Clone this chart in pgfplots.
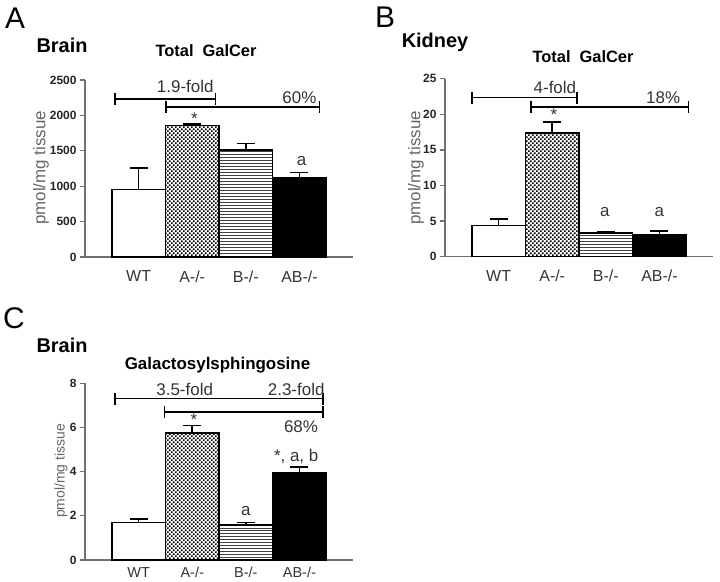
\documentclass[border=0pt]{standalone}
\usepackage{pgfplots}
\pgfplotsset{compat=1.18}
\usepackage{fontspec}
\setmainfont{Liberation Sans}
\usetikzlibrary{patterns,arrows.meta}
\definecolor{axgray}{HTML}{707070}
\definecolor{txtgray}{HTML}{333333}
\definecolor{lblgray}{HTML}{666666}
\pgfdeclarepatternformonly{finecheck}{\pgfpointorigin}{\pgfqpoint{4.3bp}{4.3bp}}{\pgfqpoint{4.3bp}{4.3bp}}{%
  \pgfpathrectangle{\pgfpointorigin}{\pgfqpoint{2bp}{2bp}}%
  \pgfpathrectangle{\pgfqpoint{2.15bp}{2.15bp}}{\pgfqpoint{2bp}{2bp}}%
  \pgfusepath{fill}}
\tikzset{
  brk/.style={line width=1.7bp, black, {Bar[width=12bp]}-{Bar[width=12bp]}},
  ann/.style={text=txtgray, font=\fontsize{17}{17}\selectfont, inner sep=0pt},
}
\pgfplotsset{
  panel/.style={
    scale only axis, width=268bp,
    xmin=-1, xmax=4, ymin=0,
    axis x line*=bottom, axis y line*=left,
    axis line style={draw=axgray, line width=1.5bp},
    xtick={0,1,2,3}, xticklabels={WT,A-/-,B-/-,AB-/-},
    x tick style={draw=none},
    y tick style={draw=axgray, line width=1.3bp},
    tick align=outside, major tick length=5bp,
    yticklabel style={font=\bfseries\fontsize{12}{12}\selectfont, text=black!85},
    /pgf/number format/assume math mode=true,
    /pgf/number format/1000 sep={},
    scaled y ticks=false,
    ybar, bar width=1, bar shift=0pt,
    clip=false,
    error bars/y dir=plus, error bars/y explicit,
    error bars/error bar style={line width=1.5bp, black},
    error bars/error mark options={rotate=90, mark size=9bp, line width=1.5bp, black},
  },
  wt/.style={draw=black, line width=1.5bp, fill=white},
  ako/.style={draw=black, line width=1.5bp, pattern=finecheck, pattern color=black},
  bko/.style={draw=black, line width=1.5bp, pattern=horizontal lines, pattern color=black!75},
  abko/.style={draw=black, line width=1.5bp, fill=black},
}
\begin{document}
\begin{tikzpicture}[x=1bp,y=1bp]
\useasboundingbox (0,0) rectangle (720,582);

% ---------- Panel A ----------
\begin{axis}[panel, at={(85bp,325bp)}, anchor=south west, height=177bp,
  ymax=2500, ytick={0,500,1000,1500,2000,2500},
  xticklabel style={font=\fontsize{16}{16}\selectfont, text=txtgray, yshift=-5bp}]
\addplot[wt] coordinates {(0,950) +- (0,310)};
\addplot[ako] coordinates {(1,1860) +- (0,20)};
\addplot[bko] coordinates {(2,1510) +- (0,90)};
\addplot[abko] coordinates {(3,1125) +- (0,65)};
\draw[brk] (axis cs:-0.45,2232) -- (axis cs:1.45,2232);
\draw[brk] (axis cs:0.5,2119) -- (axis cs:3.39,2119);
\node[ann] at (axis cs:0.87,2410) {1.9-fold};
\node[ann] at (axis cs:3.0,2250) {60\%};
\node[ann] at (axis cs:1.04,1950) {*};
\node[ann] at (axis cs:3.04,1356) {a};
\end{axis}

% ---------- Panel B ----------
\begin{axis}[panel, at={(445bp,325.3bp)}, anchor=south west, height=178bp,
  ymax=25, ytick={0,5,10,15,20,25},
  xticklabel style={font=\fontsize{16}{16}\selectfont, text=txtgray, yshift=-5bp}]
\addplot[wt] coordinates {(0,4.4) +- (0,0.9)};
\addplot[ako] coordinates {(1,17.4) +- (0,1.5)};
\addplot[bko] coordinates {(2,3.3) +- (0,0.2)};
\addplot[abko] coordinates {(3,3.1) +- (0,0.5)};
\draw[brk] (axis cs:-0.51,22.35) -- (axis cs:1.48,22.35);
\draw[brk] (axis cs:0.59,21.04) -- (axis cs:3.56,21.04);
\node[ann] at (axis cs:1.05,23.8) {4-fold};
\node[ann] at (axis cs:3.07,22.3) {18\%};
\node[ann] at (axis cs:1.03,19.9) {*};
\node[ann] at (axis cs:1.98,6.3) {a};
\node[ann] at (axis cs:3.0,6.3) {a};
\end{axis}

% ---------- Panel C ----------
\begin{axis}[panel, at={(85bp,22bp)}, anchor=south west, height=176.7bp,
  ymax=8, ytick={0,2,4,6,8},
  xticklabel style={font=\fontsize{14.5}{14.5}\selectfont, text=txtgray, yshift=1bp}]
\addplot[wt] coordinates {(0,1.7) +- (0,0.15)};
\addplot[ako] coordinates {(1,5.76) +- (0,0.32)};
\addplot[bko] coordinates {(2,1.58) +- (0,0.12)};
\addplot[abko] coordinates {(3,3.95) +- (0,0.27)};
\draw[brk] (axis cs:-0.46,7.31) -- (axis cs:3.45,7.31);
\draw[brk] (axis cs:0.47,6.71) -- (axis cs:3.45,6.71);
\node[ann] at (axis cs:0.86,7.74) {3.5-fold};
\node[ann] at (axis cs:2.94,7.74) {2.3-fold};
\node[ann] at (axis cs:3.03,6.03) {68\%};
\node[ann] at (axis cs:1.03,6.35) {*};
\node[ann] at (axis cs:2.94,4.67) {*, a, b};
\node[ann] at (axis cs:2.0,2.23) {a};
\end{axis}

% ---------- titles and labels ----------
\node[font=\fontsize{30}{30}\selectfont] at (15,564) {A};
\node[font=\fontsize{30}{30}\selectfont] at (385,565) {B};
\node[font=\fontsize{30}{30}\selectfont] at (14,264) {C};
\node[font=\bfseries\fontsize{20}{20}\selectfont] at (62,537) {Brain};
\node[font=\bfseries\fontsize{20}{20}\selectfont] at (435,540) {Kidney};
\node[font=\bfseries\fontsize{20}{20}\selectfont] at (62,237) {Brain};
\node[font=\bfseries\fontsize{16.5}{16.5}\selectfont] at (206,531) {Total\hspace{9bp}GalCer};
\node[font=\bfseries\fontsize{16.5}{16.5}\selectfont] at (583,525) {Total\hspace{9bp}GalCer};
\node[font=\bfseries\fontsize{17}{17}\selectfont] at (217.5,217) {Galactosylsphingosine};
\node[rotate=90, text=lblgray, font=\fontsize{17}{17}\selectfont] at (41,414) {pmol/mg tissue};
\node[rotate=90, text=lblgray, font=\fontsize{17}{17}\selectfont] at (416,414) {pmol/mg tissue};
\node[rotate=90, text=lblgray, font=\fontsize{14}{14}\selectfont] at (61,111) {pmol/mg tissue};
\end{tikzpicture}
\end{document}
